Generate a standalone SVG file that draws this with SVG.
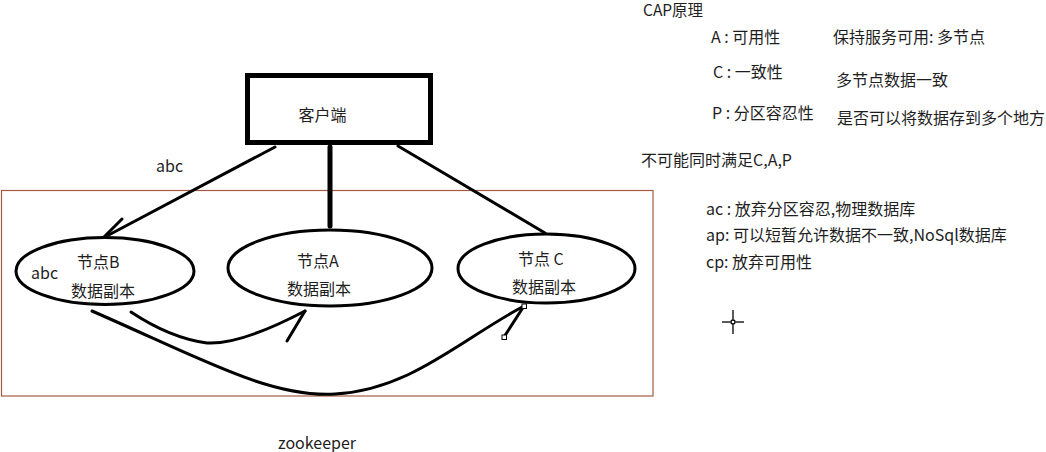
<svg xmlns="http://www.w3.org/2000/svg" width="1046" height="452" viewBox="0 0 1046 452">
<defs>
<style>
text{font-family:"Noto Sans CJK SC","Liberation Sans",sans-serif;font-size:16px;fill:#1e1e1e}
.ln{fill:none;stroke:#000;stroke-width:3;stroke-linecap:round;stroke-linejoin:round}
.thick{stroke-width:5}
.node{fill:#fff;stroke:#000;stroke-width:3}
.handle{fill:#fff;stroke:#000;stroke-width:1}
</style>
</defs>
<rect width="1046" height="452" fill="#fff"/>
<rect id="zookeeper-box" x="1.5" y="190.5" width="651.5" height="205.5" fill="none" stroke="#a55b43" stroke-width="1.2"/>
<g id="connectors">
<path class="ln" d="M275,147 L103,238"/>
<path class="ln" d="M103,238 L122,219"/>
<path class="ln thick" d="M330,147 L330,226"/>
<path class="ln" d="M398,146 L545,233"/>
<path class="ln" stroke-width="3.5" d="M131,312 Q170,338 207,343 Q240,345 305,311"/>
<path class="ln" stroke-width="3.5" d="M305,311 L287,341"/>
<path class="ln" stroke-width="3.5" d="M92,311 C200,358 270,398 335,394 C410,390 460,340 524,306"/>
<path class="ln" stroke-width="3" d="M524,306 L504,337"/>
<rect class="handle" x="522" y="304" width="4.5" height="4.5"/>
<rect class="handle" x="502" y="335" width="4.5" height="4.5"/>
</g>
<g id="client">
<rect x="247.5" y="75.5" width="183" height="67" fill="#fff" stroke="#000" stroke-width="5"/>
<text x="322.5" y="121" text-anchor="middle">客户端</text>
</g>
<g id="nodeB">
<ellipse class="node" cx="105" cy="271" rx="89" ry="33.5"/>
<text x="77" y="268">节点B</text>
<text x="71" y="297">数据副本</text>
<text x="31" y="279">abc</text>
</g>
<g id="nodeA">
<ellipse class="node" cx="330" cy="268" rx="102" ry="38" stroke-width="5"/>
<text x="297" y="267">节点A</text>
<text x="287" y="295">数据副本</text>
</g>
<g id="nodeC">
<ellipse class="node" cx="546.5" cy="268.5" rx="88.5" ry="34.5"/>
<text x="518" y="265">节点 C</text>
<text x="512" y="293">数据副本</text>
</g>
<text x="156" y="172">abc</text>
<text x="278" y="449">zookeeper</text>
<g id="notes">
<text x="643" y="16" style="font-size:15.5px">CAP原理</text>
<text x="711" y="43">A : 可用性</text>
<text x="833" y="43">保持服务可用: 多节点</text>
<text x="713" y="78">C : 一致性</text>
<text x="836" y="86">多节点数据一致</text>
<text x="712" y="119">P : 分区容忍性</text>
<text x="837" y="124">是否可以将数据存到多个地方</text>
<text x="641" y="166">不可能同时满足C,A,P</text>
<text x="706" y="215">ac : 放弃分区容忍,物理数据库</text>
<text x="706" y="241">ap: 可以短暂允许数据不一致,NoSql数据库</text>
<text x="706" y="268">cp: 放弃可用性</text>
</g>
<g id="cursor" stroke="#000" stroke-width="1.3" fill="none">
<line x1="722" y1="322" x2="730.5" y2="322"/>
<line x1="735.5" y1="322" x2="744" y2="322"/>
<line x1="733" y1="310" x2="733" y2="319.5"/>
<line x1="733" y1="324.5" x2="733" y2="334"/>
<circle cx="733" cy="322" r="2"/>
</g>
</svg>
